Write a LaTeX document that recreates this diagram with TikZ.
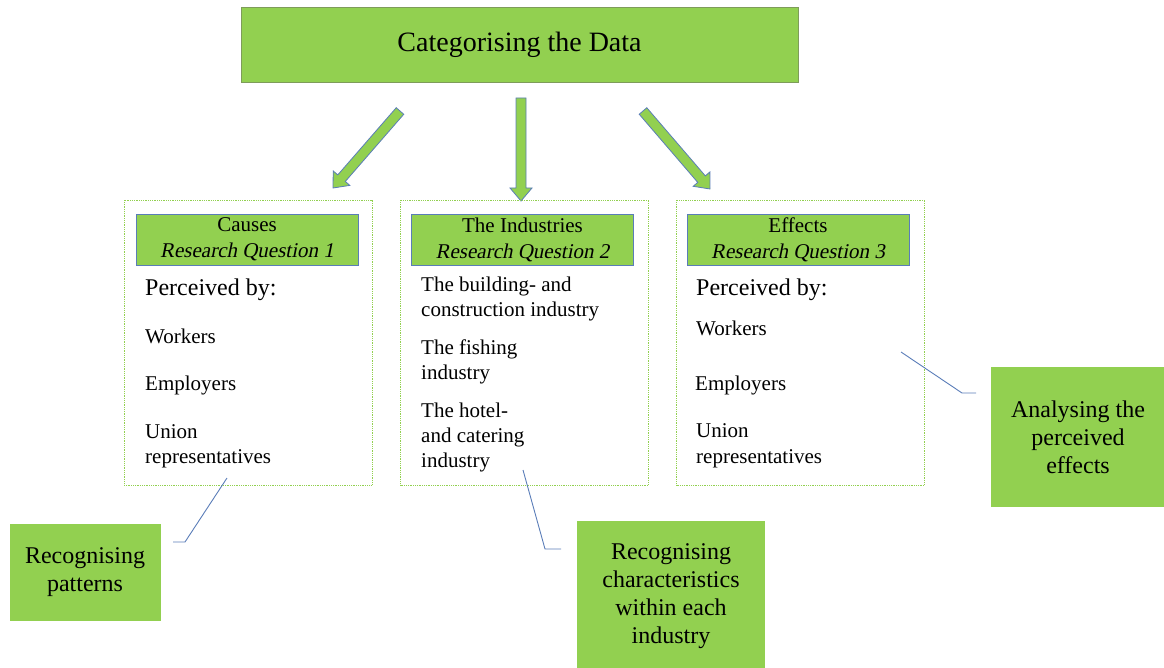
\documentclass[tikz,border=0pt]{standalone}
\usepackage{fontspec}
\newfontfamily\tnr{Liberation Serif}
\newfontfamily\tnrsl{Liberation Serif}[FakeSlant=0.2]
\begin{document}
\begin{tikzpicture}[x=1pt,y=-1pt,
  leaf/.style={fill={rgb,255:red,146;green,208;blue,80}},
  titlebox/.style={leaf, draw={rgb,255:red,126;green,156;blue,90}, line width=0.8pt, minimum width=557pt, minimum height=75pt, inner sep=0pt, font=\tnr\fontsize{28}{32}\selectfont},
  blockarrow/.style={leaf, draw={rgb,255:red,90;green,125;blue,184}, line width=0.8pt, line join=miter},
  panel/.style={draw={rgb,255:red,146;green,208;blue,80}, densely dotted, line width=0.8pt, minimum width=248pt, minimum height=285pt, inner sep=0pt},
  headbox/.style={leaf, draw={rgb,255:red,90;green,125;blue,184}, line width=0.8pt, minimum width=222pt, minimum height=51pt, inner sep=0pt, align=center, font=\tnr\fontsize{21}{26}\selectfont},
  itemtext/.style={anchor=mid west, inner sep=0pt, font=\tnr\fontsize{21}{25}\selectfont},
  leadtext/.style={anchor=mid west, inner sep=0pt, font=\tnr\fontsize{24}{28}\selectfont},
  notebox/.style={leaf, inner sep=0pt, align=center, font=\tnr\fontsize{24}{28}\selectfont},
  callout/.style={draw={rgb,255:red,90;green,125;blue,184}, line width=0.9pt}]
\useasboundingbox (0,0) rectangle (1164,668);

% title
\node[titlebox] (top) at (519.5,44.5) {Categorising the Data};

% block arrows from the title to the three categories
\draw[blockarrow] (403.77,114.28) -- (345.30,181.47) -- (349.83,185.41) -- (333,188)
  -- (333.23,170.97) -- (337.76,174.91) -- (396.23,107.72) -- cycle;
\draw[blockarrow] (526,98) -- (526,188) -- (532,188) -- (521,201) -- (510,188) -- (516,188) -- (516,98) -- cycle;
\draw[blockarrow] (646.79,107.74) -- (705.32,175.88) -- (709.87,171.97) -- (710,189)
  -- (693.19,186.31) -- (697.74,182.40) -- (639.21,114.26) -- cycle;

% category panels
\node[panel] (pcause) at (248,342.5) {};
\node[panel] (pind) at (524.5,342.5) {};
\node[panel] (peff) at (800.5,342.5) {};

\node[headbox] (hcause) at (247,239.5) {Causes\\{\tnrsl Research Question 1}};
\node[headbox] (hind) at (522.5,240) {The Industries\\{\tnrsl Research Question 2}};
\node[headbox] (heff) at (798,240) {Effects\\{\tnrsl Research Question 3}};

% causes
\node[leadtext] (c0) at (145,293) {Perceived by:};
\node[itemtext] (c1) at (145,341) {Workers};
\node[itemtext] (c2) at (145,388.5) {Employers};
\node[itemtext] (c3) at (145,436.5) {Union};
\node[itemtext] (c4) at (145,461.5) {representatives};

% industries
\node[itemtext] (i1) at (421,289) {The building- and};
\node[itemtext] (i2) at (421,314) {construction industry};
\node[itemtext] (i3) at (421,352) {The fishing};
\node[itemtext] (i4) at (421,377) {industry};
\node[itemtext] (i5) at (421,415) {The hotel-};
\node[itemtext] (i6) at (421,440.5) {and catering};
\node[itemtext] (i7) at (421,465) {industry};

% effects
\node[leadtext] (e0) at (696,293) {Perceived by:};
\node[itemtext] (e1) at (696,333.5) {Workers};
\node[itemtext] (e2) at (695,388.5) {Employers};
\node[itemtext] (e3) at (696,435.5) {Union};
\node[itemtext] (e4) at (696,461) {representatives};

% analysis notes
\node[notebox, minimum width=151pt, minimum height=97pt] (npat) at (85,572) {Recognising\\patterns};
\node[notebox, minimum width=188pt, minimum height=150pt] (nchar) at (671,596) {Recognising\\characteristics\\within each\\industry};
\node[notebox, minimum width=174pt, minimum height=140pt] (neff) at (1078,437) {Analysing the\\perceived\\effects};

% callout leaders
\coordinate (k1a) at (227,478);
\coordinate (k1b) at (185,542);
\coordinate (k1c) at (173,542);
\coordinate (k2a) at (523,470);
\coordinate (k2b) at (545,549);
\coordinate (k2c) at (561,549);
\coordinate (k3a) at (901,352);
\coordinate (k3b) at (962,393);
\coordinate (k3c) at (976,393);
\draw[callout] (k1a) -- (k1b) -- (k1c);
\draw[callout] (k2a) -- (k2b) -- (k2c);
\draw[callout] (k3a) -- (k3b) -- (k3c);
\end{tikzpicture}
\end{document}
